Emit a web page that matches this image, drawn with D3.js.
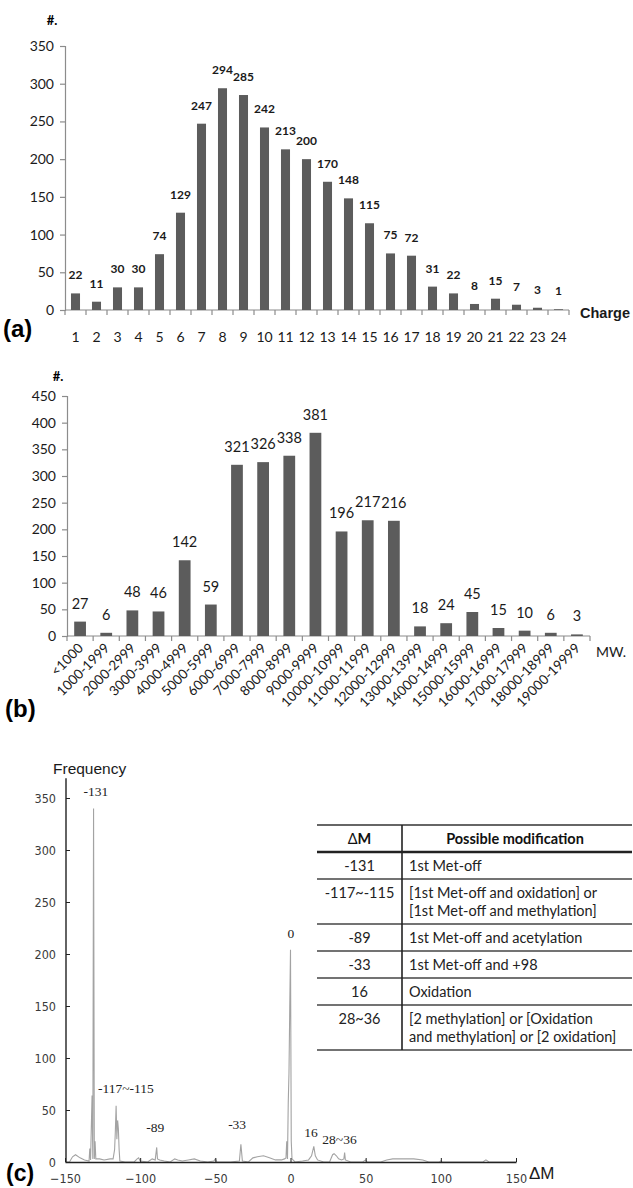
<!DOCTYPE html>
<html>
<head>
<meta charset="utf-8">
<script src="https://cdn.jsdelivr.net/npm/d3@7"></script>
<style>
  body { margin: 0; background: #fff; }
  svg { display: block; }
  .calib { font-family: Lato, "Open Sans", sans-serif; }
</style>
</head>
<body>
<div id="chart"></div>
<script>
// (a) charge distribution
const chargeCats = d3.range(1, 25).map(String);
const chargeCounts = [22, 11, 30, 30, 74, 129, 247, 294, 285, 242, 213, 200, 170, 148, 115, 75, 72, 31, 22, 8, 15, 7, 3, 1];
const chargeTicks = [0, 50, 100, 150, 200, 250, 300, 350];

// (b) molecular weight distribution
const mwCats = ["<1000", "1000-1999", "2000-2999", "3000-3999", "4000-4999", "5000-5999", "6000-6999",
  "7000-7999", "8000-8999", "9000-9999", "10000-10999", "11000-11999", "12000-12999", "13000-13999",
  "14000-14999", "15000-15999", "16000-16999", "17000-17999", "18000-18999", "19000-19999"];
const mwCounts = [27, 6, 48, 46, 142, 59, 321, 326, 338, 381, 196, 217, 216, 18, 24, 45, 15, 10, 6, 3];
const mwTicks = [0, 50, 100, 150, 200, 250, 300, 350, 400, 450];

// (c) delta-mass frequency
const dmTicks = [-150, -100, -50, 0, 50, 100, 150];
const freqTicks = [0, 50, 100, 150, 200, 250, 300, 350];
const dmCurve = [
  [-150, 0], [-147, 0], [-145, 5], [-143, 7], [-140, 4], [-137, 2], [-134, 1], [-133.5, 13], [-133, 2],
  [-132, 64], [-131.5, 3], [-131, 340], [-130.5, 3], [-130, 20], [-129.5, 3], [-127, 3], [-124, 2],
  [-120, 3], [-118, 3], [-117, 12], [-116.5, 30], [-116, 54], [-115.5, 22], [-115, 40], [-114.5, 32],
  [-114, 12], [-113.5, 1], [-110, 0], [-104, 0], [-102, 3], [-101, 4], [-100, 1], [-95, 0], [-92, 3],
  [-90, 2], [-89, 14], [-88.5, 3], [-87, 2], [-84, 1], [-80, 0], [-77, 3], [-75, 2], [-72, 1], [-68, 2],
  [-64, 3], [-60, 1], [-55, 0], [-51, 1], [-50, 3], [-49, 0], [-40, 0], [-34, 1], [-33, 17], [-32, 1],
  [-28, 0], [-25, 4], [-22, 5], [-18, 6], [-14, 4], [-10, 2], [-6, 2], [-4, 3], [-3, 4], [-2.5, 20],
  [-2, 3], [-1.5, 57], [-1, 86], [-0.5, 148], [0, 204], [0.5, 20], [1, 3], [3, 0], [8, 1], [12, 2],
  [14, 6], [15.5, 15], [16.5, 6], [18, 2], [22, 0], [26, 0], [28, 7], [29, 8], [30.5, 6], [32, 3],
  [34, 2], [35.5, 3], [36, 9], [36.5, 2], [40, 0], [48, 0], [50, 2], [51, 0], [60, 0], [64, 2],
  [68, 3], [75, 3], [82, 3], [88, 2], [92, 0], [99, 0], [100, 1], [101, 0], [128, 0], [130, 2],
  [132, 0], [150, 0]
];
const peakNames = ["-131", "-117~-115", "-89", "-33", "0", "16", "28~36"];
const peakAnchors = [[-129.5, 352], [-109.5, 66], [-90, 29], [-35.5, 32], [0.3, 215], [13.7, 24], [32.6, 17]];

const tableDM = ["-131", "-117~-115", "-89", "-33", "16", "28~36"];
const tableMods = [
  ["1st Met-off"],
  ["[1st Met-off and oxidation] or", "[1st Met-off and methylation]"],
  ["1st Met-off and acetylation"],
  ["1st Met-off and +98"],
  ["Oxidation"],
  ["[2 methylation] or [Oxidation", "and methylation] or [2 oxidation]"]
];

const W = 633, H = 1188;
const svg = d3.select('#chart').append('svg')
  .attr('width', W).attr('height', H)
  .attr('viewBox', `0 0 ${W} ${H}`);

const barColor = '#5c5c5c';
const axisGray = '#8c8c8c';

function barPanel(cfg) {
  const x = d3.scaleBand().domain(cfg.cats).range(cfg.xRange).paddingInner(0);
  const y = d3.scaleLinear().domain([0, cfg.yMax]).range(cfg.yRange);
  const g = svg.append('g');

  // y axis
  const ya = g.append('g').attr('transform', `translate(${cfg.xRange[0]},0)`)
    .call(d3.axisLeft(y).tickValues(cfg.yTicks).tickSize(5).tickPadding(6));
  ya.selectAll('path, line').attr('stroke', axisGray).attr('stroke-width', 1.2);
  ya.selectAll('text').attr('class', 'calib').attr('font-size', 14).attr('fill', '#1a1a1a');

  // x axis with ticks on band boundaries
  const xa = g.append('g').attr('transform', `translate(0,${cfg.yRange[0]})`);
  xa.append('line').attr('x1', cfg.xRange[0]).attr('x2', cfg.xRange[1])
    .attr('stroke', axisGray).attr('stroke-width', 1.2);
  xa.selectAll('.tk').data(cfg.cats.concat(['end'])).join('line')
    .attr('class', 'tk')
    .attr('x1', (d, i) => cfg.xRange[0] + i * x.step())
    .attr('x2', (d, i) => cfg.xRange[0] + i * x.step())
    .attr('y1', 0).attr('y2', 5)
    .attr('stroke', axisGray).attr('stroke-width', 1.2);

  const bw = x.bandwidth() * cfg.barFrac;
  g.selectAll('.bar').data(cfg.values).join('rect')
    .attr('x', (d, i) => x(cfg.cats[i]) + (x.bandwidth() - bw) / 2)
    .attr('y', d => y(d))
    .attr('width', bw)
    .attr('height', d => y(0) - y(d))
    .attr('fill', barColor);

  g.selectAll('.val').data(cfg.values).join('text')
    .attr('class', 'calib')
    .attr('x', (d, i) => x(cfg.cats[i]) + x.bandwidth() / 2)
    .attr('y', d => y(d) - cfg.labelGap)
    .attr('text-anchor', 'middle')
    .attr('font-size', cfg.labelSize)
    .attr('font-weight', cfg.labelWeight)
    .attr('fill', '#1a1a1a')
    .text(d => d);
  return { g, x, y };
}

// ---- panel (a)
const pa = barPanel({
  cats: chargeCats, values: chargeCounts, xRange: [65, 569], yRange: [310, 46], yMax: 350,
  yTicks: chargeTicks, barFrac: 0.43, labelGap: 14, labelSize: 12, labelWeight: 700
});
pa.g.selectAll('.cat').data(chargeCats).join('text')
  .attr('class', 'calib')
  .attr('x', d => pa.x(d) + pa.x.bandwidth() / 2)
  .attr('y', 342)
  .attr('text-anchor', 'middle').attr('font-size', 14).attr('fill', '#1a1a1a')
  .text(d => d);
pa.g.append('text').attr('class', 'calib').attr('x', 52).attr('y', 25)
  .attr('text-anchor', 'middle').attr('font-size', 13).attr('font-weight', 700).text('#.');
pa.g.append('text').attr('x', 580).attr('y', 318)
  .attr('font-family', 'Liberation Sans, Arial, sans-serif')
  .attr('font-size', 14.5).attr('font-weight', 700).attr('fill', '#1a1a1a').text('Charge');
pa.g.append('text').attr('x', 3).attr('y', 337)
  .attr('font-family', 'Liberation Sans, Arial, sans-serif')
  .attr('font-size', 24).attr('font-weight', 700).text('(a)');

// ---- panel (b)
const pb = barPanel({
  cats: mwCats, values: mwCounts, xRange: [67, 590], yRange: [636, 396], yMax: 450,
  yTicks: mwTicks, barFrac: 0.45, labelGap: 13, labelSize: 14.5, labelWeight: 400
});
pb.g.selectAll('.cat').data(mwCats).join('text')
  .attr('class', 'calib')
  .attr('transform', d => `translate(${pb.x(d) + pb.x.bandwidth() / 2 + 4},649) rotate(-45)`)
  .attr('text-anchor', 'end').attr('font-size', 13.5).attr('fill', '#1a1a1a')
  .text(d => d);
pb.g.append('text').attr('class', 'calib').attr('x', 58).attr('y', 381)
  .attr('text-anchor', 'middle').attr('font-size', 13).attr('font-weight', 700).text('#.');
pb.g.append('text').attr('class', 'calib').attr('x', 596).attr('y', 657)
  .attr('font-size', 14).attr('fill', '#1a1a1a').text('MW.');
pb.g.append('text').attr('x', 5).attr('y', 717)
  .attr('font-family', 'Liberation Sans, Arial, sans-serif')
  .attr('font-size', 24).attr('font-weight', 700).text('(b)');

// ---- panel (c)
const xc = d3.scaleLinear().domain([-150, 150]).range([65, 516]);
const yc = d3.scaleLinear().domain([0, 350]).range([1162, 798]);
const gc = svg.append('g');
const narrow = '"Liberation Sans Narrow", "DejaVu Sans Condensed", Arial, sans-serif';

gc.append('path').datum(dmCurve)
  .attr('fill', 'none').attr('stroke', '#a3a3a3').attr('stroke-width', 1.1)
  .attr('d', d3.line().x(d => xc(d[0])).y(d => yc(d[1])));

const yca = gc.append('g').attr('transform', `translate(${xc(-150) + 1},0)`)
  .call(d3.axisLeft(yc).tickValues(freqTicks).tickSizeInner(-4).tickSizeOuter(0).tickPadding(10));
yca.select('.domain').remove();
yca.selectAll('line').attr('stroke', '#222');
yca.selectAll('text').attr('font-family', narrow).attr('font-size', 12.5).attr('fill', '#3a3a3a');
gc.append('line').attr('x1', xc(-150) + 1).attr('x2', xc(-150) + 1)
  .attr('y1', yc(0)).attr('y2', yc(369)).attr('stroke', '#222').attr('stroke-width', 1.4);

const xca = gc.append('g').attr('transform', `translate(0,${yc(0)})`)
  .call(d3.axisBottom(xc).tickValues(dmTicks).tickSizeInner(-4).tickSizeOuter(0).tickPadding(12));
xca.select('.domain').attr('stroke', '#222').attr('stroke-width', 1.4);
xca.selectAll('line').attr('stroke', '#222');
xca.selectAll('text').attr('font-family', narrow).attr('font-size', 12.5).attr('fill', '#3a3a3a');

gc.append('text').attr('x', 53).attr('y', 774)
  .attr('font-family', 'Liberation Sans, Arial, sans-serif').attr('font-size', 15.5)
  .attr('fill', '#1a1a1a').text('Frequency');
gc.append('text').attr('x', 529).attr('y', 1179)
  .attr('font-family', 'Liberation Sans, Arial, sans-serif').attr('font-size', 17)
  .attr('fill', '#1a1a1a').text('ΔM');
gc.append('text').attr('x', 6).attr('y', 1181)
  .attr('font-family', 'Liberation Sans, Arial, sans-serif')
  .attr('font-size', 23).attr('font-weight', 700).text('(c)');

gc.selectAll('.pk').data(peakNames).join('text')
  .attr('x', (d, i) => xc(peakAnchors[i][0]))
  .attr('y', (d, i) => yc(peakAnchors[i][1]))
  .attr('text-anchor', 'middle')
  .attr('font-family', '"Liberation Serif", "Times New Roman", serif')
  .attr('font-size', 13.5).attr('fill', '#222')
  .text(d => d);

// modification table
const tbl = { left: 317, mid: 402, right: 632, top: 825, head: 852 };
const lineH = 18;
const rowHeights = tableMods.map(m => m.length === 1 ? 27 : 45);
const rowTops = [];
rowHeights.reduce((acc, h) => { rowTops.push(acc); return acc + h; }, tbl.head);
const bottom = rowTops[rowTops.length - 1] + rowHeights[rowHeights.length - 1];
const gt = gc.append('g').attr('class', 'calib');

gt.append('line').attr('x1', tbl.left).attr('x2', tbl.right).attr('y1', tbl.top).attr('y2', tbl.top)
  .attr('stroke', '#333').attr('stroke-width', 1.6);
gt.append('line').attr('x1', tbl.left).attr('x2', tbl.right).attr('y1', tbl.head).attr('y2', tbl.head)
  .attr('stroke', '#222').attr('stroke-width', 2.4);
gt.selectAll('.rl').data(rowTops.slice(1).concat([bottom])).join('line')
  .attr('x1', tbl.left).attr('x2', tbl.right).attr('y1', d => d).attr('y2', d => d)
  .attr('stroke', '#444').attr('stroke-width', 1.6);
gt.append('line').attr('x1', tbl.mid).attr('x2', tbl.mid).attr('y1', tbl.top).attr('y2', bottom)
  .attr('stroke', '#222').attr('stroke-width', 1.6);

const hd = gt.append('text').attr('x', (tbl.left + tbl.mid) / 2).attr('y', 844)
  .attr('text-anchor', 'middle').attr('font-size', 14.5).attr('fill', '#111');
hd.append('tspan').text('Δ');
hd.append('tspan').attr('font-weight', 700).text('M');
gt.append('text').attr('x', (tbl.mid + tbl.right) / 2 - 2).attr('y', 844)
  .attr('text-anchor', 'middle').attr('font-size', 14.5).attr('font-weight', 700).attr('fill', '#111')
  .text('Possible modification');

gt.selectAll('.dm').data(tableDM).join('text')
  .attr('x', (tbl.left + tbl.mid) / 2)
  .attr('y', (d, i) => rowTops[i] + 19)
  .attr('text-anchor', 'middle').attr('font-size', 14.5).attr('fill', '#222')
  .text(d => d);
tableMods.forEach((lines, i) => {
  gt.selectAll(null).data(lines).join('text')
    .attr('x', tbl.mid + 7)
    .attr('y', (d, j) => rowTops[i] + 19 + j * lineH)
    .attr('font-size', 14.5).attr('fill', '#222')
    .text(d => d);
});
</script>
</body>
</html>
